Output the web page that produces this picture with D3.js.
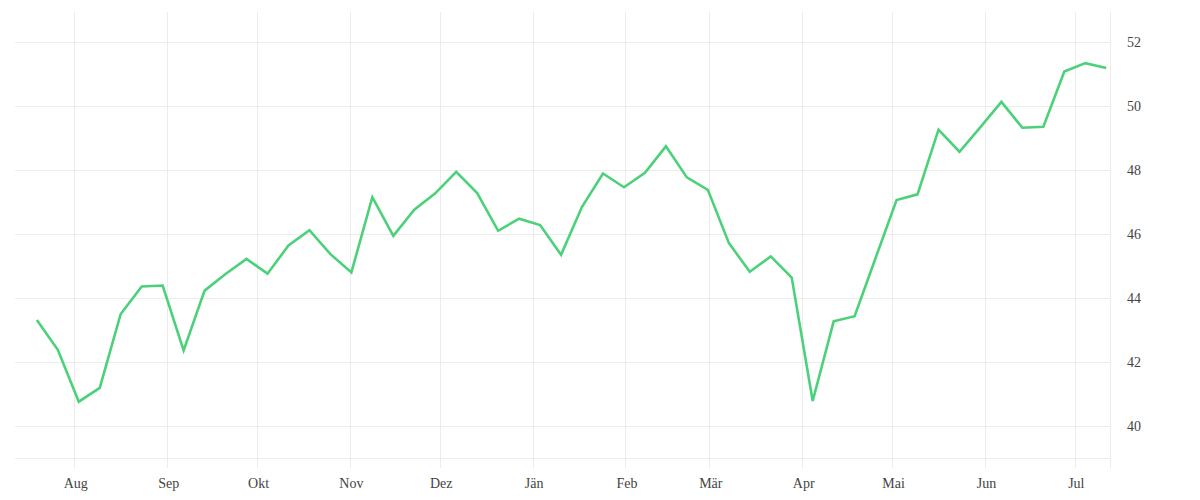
<!DOCTYPE html>
<html>
<head>
<meta charset="utf-8">
<script src="https://cdn.jsdelivr.net/npm/d3@7"></script>
<style>
  html, body { margin: 0; padding: 0; background: #fff; }
  svg { display: block; }
  text { font-family: "Liberation Serif", "Times New Roman", serif; font-size: 14px; fill: #444; }
</style>
</head>
<body>
<svg id="chart" width="1200" height="500"></svg>
<script>
// ---- data ----
const dates = [
  "2020-07-19","2020-07-26","2020-08-02","2020-08-09","2020-08-16","2020-08-23","2020-08-30",
  "2020-09-06","2020-09-13","2020-09-20","2020-09-27","2020-10-04","2020-10-11","2020-10-18",
  "2020-10-25","2020-11-01","2020-11-08","2020-11-15","2020-11-22","2020-11-29","2020-12-06",
  "2020-12-13","2020-12-20","2020-12-27","2021-01-03","2021-01-10","2021-01-17","2021-01-24",
  "2021-01-31","2021-02-07","2021-02-14","2021-02-21","2021-02-28","2021-03-07","2021-03-14",
  "2021-03-21","2021-03-28","2021-04-04","2021-04-11","2021-04-18","2021-04-25","2021-05-02",
  "2021-05-09","2021-05-16","2021-05-23","2021-05-30","2021-06-06","2021-06-13","2021-06-20",
  "2021-06-27","2021-07-04","2021-07-11"
];
const values = [
  43.31, 42.38, 40.76, 41.19, 43.50, 44.36, 44.39,
  42.36, 44.23, 44.75, 45.22, 44.76, 45.64, 46.12,
  45.37, 44.80, 47.15, 45.94, 46.76, 47.27, 47.94,
  47.28, 46.10, 46.48, 46.28, 45.35, 46.85, 47.89,
  47.46, 47.91, 48.74, 47.77, 47.38, 45.72, 44.82,
  45.30, 44.64, 40.78, 43.27, 43.43, 45.25, 47.06,
  47.24, 49.26, 48.57, 49.34, 50.13, 49.32, 49.35,
  51.08, 51.34, 51.19
];
const yTicks = [40, 42, 44, 46, 48, 50, 52];
const monthNames = ["Jän","Feb","Mär","Apr","Mai","Jun","Jul","Aug","Sep","Okt","Nov","Dez"];
const xDomain = ["2020-07-12T05:00", "2021-07-12T18:00"];
const yDomain = [39, 52.9];

// ---- layout ----
const plotLeft = 15, plotRight = 1110, plotTop = 12, plotBottom = 458, tickExt = 10;
const svg = d3.select("#chart");

const x = d3.scaleTime().domain(xDomain.map(d => new Date(d))).range([plotLeft, plotRight]);
const y = d3.scaleLinear().domain(yDomain).range([plotBottom, plotBottom - (yDomain[1] - yDomain[0]) * 32]);

const data = dates.map((d, i) => ({ date: new Date(d + "T12:00"), value: values[i] }));

const grid = svg.append("g").attr("stroke", "#ececec").attr("stroke-width", 1).attr("shape-rendering", "crispEdges");

// horizontal gridlines
grid.selectAll("line.h").data(yTicks).join("line")
  .attr("class", "h")
  .attr("x1", plotLeft).attr("x2", plotRight)
  .attr("y1", d => Math.round(y(d)) + 0.5).attr("y2", d => Math.round(y(d)) + 0.5);
// bottom baseline
grid.append("line").attr("x1", plotLeft).attr("x2", plotRight)
  .attr("y1", Math.round(y(yDomain[0])) + 0.5).attr("y2", Math.round(y(yDomain[0])) + 0.5);

// vertical month gridlines
const months = x.ticks(d3.timeMonth.every(1)).filter(d => x(d) > plotLeft && x(d) < plotRight);
grid.selectAll("line.v").data(months).join("line")
  .attr("class", "v")
  .attr("x1", d => Math.round(x(d)) + 0.5).attr("x2", d => Math.round(x(d)) + 0.5)
  .attr("y1", plotTop).attr("y2", plotBottom + tickExt);
// right edge
grid.append("line").attr("x1", plotRight + 0.5).attr("x2", plotRight + 0.5).attr("y1", plotTop).attr("y2", plotBottom + tickExt);

// x labels
svg.append("g").selectAll("text").data(months).join("text")
  .attr("x", d => x(d) + 1.5)
  .attr("y", 488)
  .attr("text-anchor", "middle")
  .text(d => monthNames[d.getMonth()]);

// y labels
svg.append("g").selectAll("text").data(yTicks).join("text")
  .attr("x", 1127)
  .attr("y", d => y(d) + 5)
  .attr("text-anchor", "start")
  .text(d => d);

// line
const line = d3.line().x(d => x(d.date)).y(d => y(d.value));
svg.append("path").datum(data)
  .attr("fill", "none")
  .attr("stroke", "#4cd17b")
  .attr("stroke-width", 2.6)
  .attr("stroke-linejoin", "miter")
  .attr("d", line);
</script>
</body>
</html>
